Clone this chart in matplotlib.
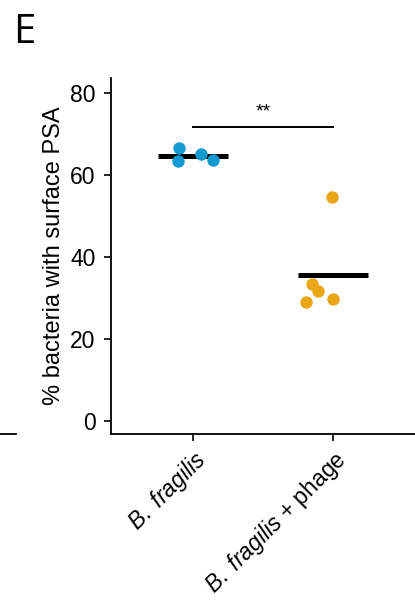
import numpy as np
import matplotlib
matplotlib.use("Agg")
import matplotlib.pyplot as plt

plt.rcParams['font.family'] = ['Liberation Sans', 'DejaVu Sans']
plt.rcParams['mathtext.fontset'] = 'custom'
plt.rcParams['mathtext.rm'] = 'Liberation Sans'
plt.rcParams['mathtext.it'] = 'Liberation Sans:italic'

# data
groups = [r"$\it{B.\ fragilis}$", r"$\it{B.\ fragilis}$ + phage"]
bf_vals = [66.6, 63.4, 65.1, 63.7]
bf_jitter = [-0.10, -0.11, 0.06, 0.14]
bfp_vals = [54.6, 33.4, 31.7, 29.0, 29.8]
bfp_jitter = [-0.01, -0.15, -0.11, -0.19, 0.0]
colors = ["#1499d1", "#e9a617"]
sig_y = 71.7

fig = plt.figure(figsize=(4.15, 6.01), dpi=100)
ax = fig.add_axes([111 / 415, 1 - 434 / 601, 1 - 111 / 415, (434 - 78) / 601])

for i, (vals, jit) in enumerate([(bf_vals, bf_jitter), (bfp_vals, bfp_jitter)]):
    x = i + 1
    ax.scatter(np.array(jit) + x, vals, s=80, color=colors[i], zorder=3, linewidths=0)
    m = np.mean(vals)
    ax.plot([x - 0.25, x + 0.25], [m, m], color="black", lw=3.6, zorder=2,
            solid_capstyle="butt")

ax.plot([1, 2], [sig_y, sig_y], color="black", lw=1.4)
ax.text(1.5, sig_y + 1.5, "**", ha="center", va="bottom", fontsize=14)

ax.set_xlim(0.414, 2.586)
ax.set_ylim(-3.17, 83.66)
ax.set_yticks([0, 20, 40, 60, 80])
ax.set_xticks([1, 2])
ax.set_xticklabels(groups, rotation=45, ha="right", rotation_mode="anchor")
ax.tick_params(labelsize=16.5, width=1.2, length=5, direction="out", pad=4)
ax.tick_params(axis="y", pad=6)
ax.set_ylabel("% bacteria with surface PSA", fontsize=17, labelpad=4)
for s in ["top", "right"]:
    ax.spines[s].set_visible(False)
for s in ["left", "bottom"]:
    ax.spines[s].set_linewidth(1.3)

fig.text(13 / 415, 1 - 43 / 601, "E", fontsize=29, family="Open Sans")
fig.add_artist(plt.Line2D([0, 16 / 415], [1 - 434 / 601, 1 - 434 / 601],
                          color="black", lw=1.3))

fig.savefig("out.png", dpi=100)
